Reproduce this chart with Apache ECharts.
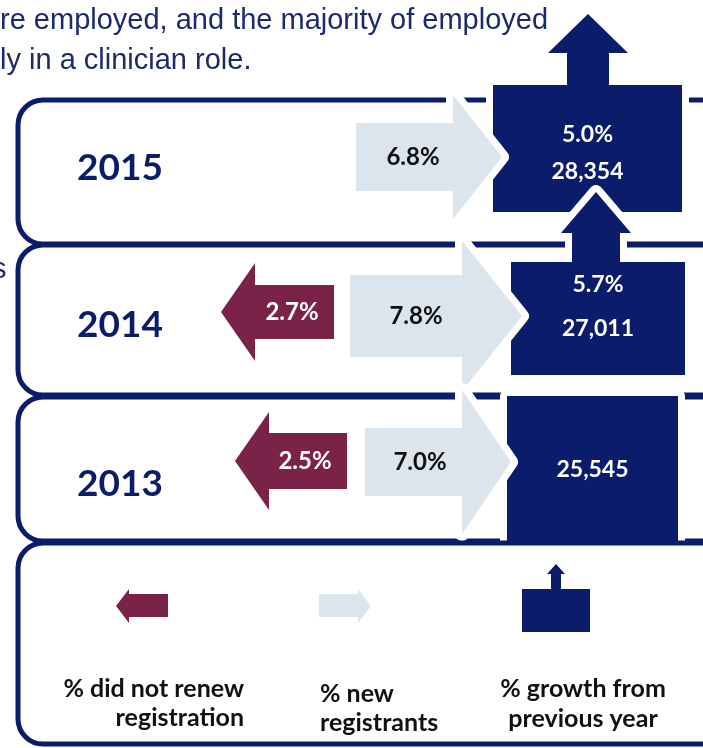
<!DOCTYPE html>
<html><head><meta charset="utf-8">
<script src="https://cdn.jsdelivr.net/npm/echarts@6/dist/echarts.min.js"></script>
<style>html,body{margin:0;padding:0;background:#fff}#c{width:703px;height:748px}</style>
</head><body><div id="c"></div>
<script>
// ---- data ----
const years = ['2013', '2014', '2015'];
const notRenewedPct = [2.5, 2.7, null];
const newRegistrantsPct = [7.0, 7.8, 6.8];
const growthPct = [null, 5.7, 5.0];
const registrants = [25545, 27011, 28354];
const titleLines = ['re employed, and the majority of employed', 'ly in a clinician role.'];
const sideFragment = 's';
const legendLabels = [['% did not renew', 'registration'], ['% new', 'registrants'], ['% growth from', 'previous year']];

// ---- styles ----
const NAVY = '#0B1C6B', MAROON = '#7A2248', LIGHT = '#DCE4EC', WHITE = '#FFFFFF', INK = '#111111';
const FONT = 'Lato';

// ---- layout (x in axis units = px; y as offsets from the row centre) ----
const layout = {
  '2015': { frame: [-72, 72], year: -4,
    light: { x0: 356, x1: 453, tip: 502, dy: -15, bh: 34, hh: 62, tx: 413 },
    box: { x0: 493, x1: 682, y0: -87, y1: 40, gy: -37, ty: 0,
           up: { cx: 588, sw: 21, hw: 40, base: -119, apex: -158 } } },
  '2014': { frame: [-77, 73], year: 3,
    maroon: { x0: 255, x1: 334, tip: 221, dy: -10, bh: 27, hh: 49, tx: 292 },
    light: { x0: 350, x1: 462, tip: 522, dy: -6, bh: 41, hh: 75, tx: 416 },
    box: { x0: 511, x1: 685, y0: -60, y1: 53, gy: -37, ty: 7,
           up: { cx: 596, sw: 24, hw: 35, base: -89, apex: -130 } } },
  '2013': { frame: [-75, 69], year: 12,
    maroon: { x0: 269, x1: 347, tip: 235, dy: -11, bh: 28, hh: 49, tx: 305 },
    light: { x0: 365, x1: 462, tip: 511, dy: -10, bh: 34, hh: 72, tx: 420 },
    box: { x0: 507, x1: 678, y0: -76, y1: 70, gy: 0, ty: -2 } }
};
const FRAME_X = [18, 728];
const OUTLINE = 14;

function pct(v) { return v.toFixed(1) + '%'; }
function txt(text, x, y, size, color, align) {
  return { type: 'text', style: { text: text, x: x, y: y, fontSize: size, fontWeight: 'bold', fontFamily: FONT,
    fill: color, align: align || 'center', verticalAlign: 'middle', textAlign: align || 'center', textVerticalAlign: 'middle' } };
}
function poly(pts, fill) { return { type: 'polygon', shape: { points: pts }, style: { fill: fill } }; }
function outlinePoly(pts) {
  return { type: 'polygon', shape: { points: pts }, style: { fill: WHITE, stroke: WHITE, lineWidth: OUTLINE, lineJoin: 'round' } };
}

function renderFrame(params, api) {
  const i = api.value(1);
  const L = layout[years[i]];
  const cy = api.coord([0, i])[1];
  const x0 = api.coord([FRAME_X[0], i])[0], x1 = api.coord([FRAME_X[1], i])[0];
  return { type: 'rect', shape: { x: x0, y: cy + L.frame[0], width: x1 - x0, height: L.frame[1] - L.frame[0], r: 25 },
    style: { fill: 'none', stroke: NAVY, lineWidth: 5 } };
}

function renderRow(params, api) {
  const i = api.value(1);
  const year = years[i];
  const L = layout[year];
  const cy = api.coord([0, i])[1];
  const X = v => api.coord([v, i])[0];
  const ch = [];
  ch.push(txt(year, X(120), cy + L.year, 37, NAVY));
  // total registrants box (+ growth arrow)
  const b = L.box;
  const pts = [[X(b.x0), cy + b.y0]];
  if (growthPct[i] != null) {
    const u = b.up;
    pts.push([X(u.cx - u.sw), cy + b.y0], [X(u.cx - u.sw), cy + u.base], [X(u.cx - u.hw), cy + u.base],
             [X(u.cx), cy + u.apex], [X(u.cx + u.hw), cy + u.base], [X(u.cx + u.sw), cy + u.base], [X(u.cx + u.sw), cy + b.y0]);
  }
  pts.push([X(b.x1), cy + b.y0], [X(b.x1), cy + b.y1], [X(b.x0), cy + b.y1]);
  ch.push(outlinePoly(pts), poly(pts, NAVY));
  const bx = (X(b.x0) + X(b.x1)) / 2;
  if (growthPct[i] != null) ch.push(txt(pct(growthPct[i]), bx, cy + b.gy, 23, WHITE));
  ch.push(txt(registrants[i].toLocaleString('en-US'), bx, cy + b.ty, 23, WHITE));
  // did not renew arrow (left)
  if (notRenewedPct[i] != null && L.maroon) {
    const m = L.maroon, c = cy + m.dy;
    const mp = [[X(m.x1), c - m.bh], [X(m.x0), c - m.bh], [X(m.x0), c - m.hh], [X(m.tip), c],
                [X(m.x0), c + m.hh], [X(m.x0), c + m.bh], [X(m.x1), c + m.bh]];
    ch.push(poly(mp, MAROON));
    ch.push(txt(pct(notRenewedPct[i]), X(m.tx), c, 24, WHITE));
  }
  // new registrants arrow (right)
  const l = L.light, c2 = cy + l.dy;
  const lp = [[X(l.x0), c2 - l.bh], [X(l.x1), c2 - l.bh], [X(l.x1), c2 - l.hh], [X(l.tip), c2],
              [X(l.x1), c2 + l.hh], [X(l.x1), c2 + l.bh], [X(l.x0), c2 + l.bh]];
  ch.push(outlinePoly(lp), poly(lp, LIGHT));
  ch.push(txt(pct(newRegistrantsPct[i]), X(l.tx), c2, 24, INK));
  return { type: 'group', children: ch };
}

const rowOrder = [2, 1, 0];
const chart = echarts.init(document.getElementById('c'), null, { renderer: 'canvas' });

const TITLE_STYLE = { fontSize: 29, fontFamily: 'Liberation Sans', fill: '#1C2A6C', verticalAlign: 'middle', textVerticalAlign: 'middle' };
const graphic = [
  { type: 'text', z: 10, style: Object.assign({ text: titleLines[0], x: 0, y: 21 }, TITLE_STYLE) },
  { type: 'text', z: 10, style: Object.assign({ text: titleLines[1], x: 0, y: 61 }, TITLE_STYLE) },
  { type: 'text', z: 10, style: Object.assign({ text: sideFragment, x: -8, y: 270 }, TITLE_STYLE) },
  // legend frame
  { type: 'rect', z: 10, shape: { x: 18, y: 543, width: 710, height: 201, r: 25 }, style: { fill: 'none', stroke: NAVY, lineWidth: 5 } },
  // legend icons
  { type: 'polygon', z: 10, shape: { points: [[168, 594], [129, 594], [129, 589], [116, 606], [129, 623], [129, 617], [168, 617]] }, style: { fill: MAROON } },
  { type: 'polygon', z: 10, shape: { points: [[319, 594], [358, 594], [358, 589], [371, 606], [358, 623], [358, 617], [319, 617]] }, style: { fill: LIGHT } },
  { type: 'polygon', z: 10, shape: { points: [[522, 589], [551, 589], [551, 574], [547, 574], [556, 564], [565, 574], [561, 574], [561, 589], [590, 589], [590, 632], [522, 632]] }, style: { fill: NAVY } },
  // legend texts
  Object.assign(txt(legendLabels[0][0], 244, 689, 25, INK, 'right'), { z: 10 }),
  Object.assign(txt(legendLabels[0][1], 244, 718, 25, INK, 'right'), { z: 10 }),
  Object.assign(txt(legendLabels[1][0], 320, 694, 25, INK, 'left'), { z: 10 }),
  Object.assign(txt(legendLabels[1][1], 320, 723, 25, INK, 'left'), { z: 10 }),
  Object.assign(txt(legendLabels[2][0], 583, 689, 25, INK, 'center'), { z: 10 }),
  Object.assign(txt(legendLabels[2][1], 583, 719, 25, INK, 'center'), { z: 10 })
];

chart.setOption({
  animation: false,
  grid: { left: 0, right: 0, top: 97, height: 450 },
  xAxis: { type: 'value', min: 0, max: 703, show: false },
  yAxis: { type: 'category', data: years, show: false },
  graphic: graphic,
  series: [
    { type: 'custom', z: 1, renderItem: renderFrame, encode: { x: 0, y: 1 }, data: rowOrder.map(i => [0, i]) },
    { type: 'custom', z: 2, renderItem: renderRow, encode: { x: 0, y: 1 }, data: rowOrder.map(i => [0, i]) }
  ]
});
</script>
</body></html>
